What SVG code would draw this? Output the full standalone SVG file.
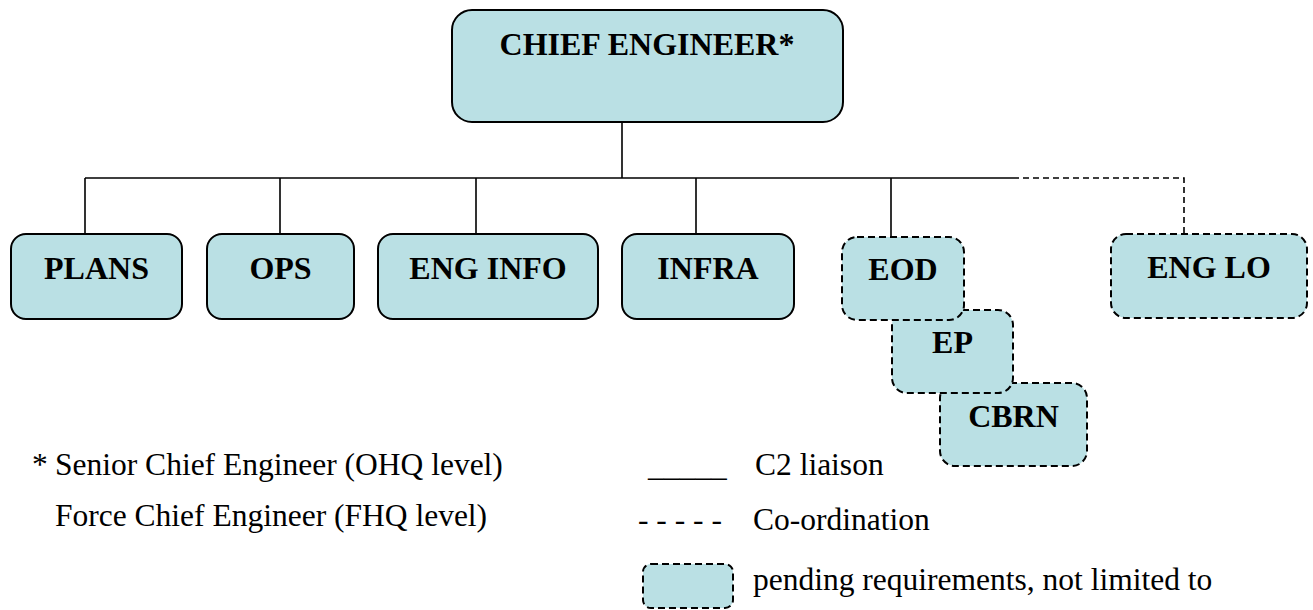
<svg xmlns="http://www.w3.org/2000/svg" width="1313" height="610" viewBox="0 0 1313 610">
<style>
.box{fill:#BAE0E4;stroke:#000;stroke-width:2}
.pend{fill:#BAE0E4;stroke:#000;stroke-width:2;stroke-dasharray:7 4}
.lbl{font-family:"Liberation Serif","Times New Roman",serif;font-weight:bold;font-size:32px;text-anchor:middle;fill:#000}
.leg{font-family:"Liberation Serif","Times New Roman",serif;font-size:31.5px;fill:#000}
.c2{stroke:#000;stroke-width:1.6;fill:none}
.co{stroke:#000;stroke-width:1.6;fill:none;stroke-dasharray:6 4}
</style>
<rect width="1313" height="610" fill="#fff"/>
<g id="connectors">
<path class="c2" d="M622 122V178M85 178H1013M85 178V234M280 178V234M476 178V234M696 178V234M891 178V237"/>
<path class="co" d="M1013 178H1184V234"/>
</g>
<g id="chief"><rect class="box" x="452" y="10" width="391" height="112" rx="20"/><text class="lbl" x="647" y="55">CHIEF ENGINEER*</text></g>
<g id="plans"><rect class="box" x="11" y="234" width="171" height="85" rx="15"/><text class="lbl" x="96.5" y="279">PLANS</text></g>
<g id="ops"><rect class="box" x="207" y="234" width="147" height="85" rx="15"/><text class="lbl" x="280.5" y="279">OPS</text></g>
<g id="enginfo"><rect class="box" x="378" y="234" width="220" height="85" rx="15"/><text class="lbl" x="488" y="279">ENG INFO</text></g>
<g id="infra"><rect class="box" x="622" y="234" width="172" height="85" rx="15"/><text class="lbl" x="708" y="279">INFRA</text></g>
<g id="cbrn"><rect class="pend" x="940" y="383" width="147" height="83" rx="15"/><text class="lbl" x="1013.5" y="427">CBRN</text></g>
<g id="ep"><rect class="pend" x="892" y="310" width="121" height="83" rx="15"/><text class="lbl" x="952.5" y="353">EP</text></g>
<g id="eod"><rect class="pend" x="842" y="237" width="122" height="83" rx="15"/><text class="lbl" x="903" y="280">EOD</text></g>
<g id="englo"><rect class="pend" x="1111" y="234" width="196" height="84" rx="15"/><text class="lbl" x="1209" y="278">ENG LO</text></g>
<g id="legend">
<text class="leg" x="32" y="475">*</text>
<text class="leg" x="55" y="475">Senior Chief Engineer (OHQ level)</text>
<text class="leg" x="55" y="526">Force Chief Engineer (FHQ level)</text>
<text class="leg" x="648" y="476">_____</text>
<text class="leg" x="755" y="475">C2 liaison</text>
<text class="leg" x="638" y="530">- - - - -</text>
<text class="leg" x="753" y="530">Co-ordination</text>
<rect class="pend" x="643" y="564" width="90" height="44" rx="8"/>
<text class="leg" x="753" y="590">pending requirements, not limited to</text>
</g>
</svg>
